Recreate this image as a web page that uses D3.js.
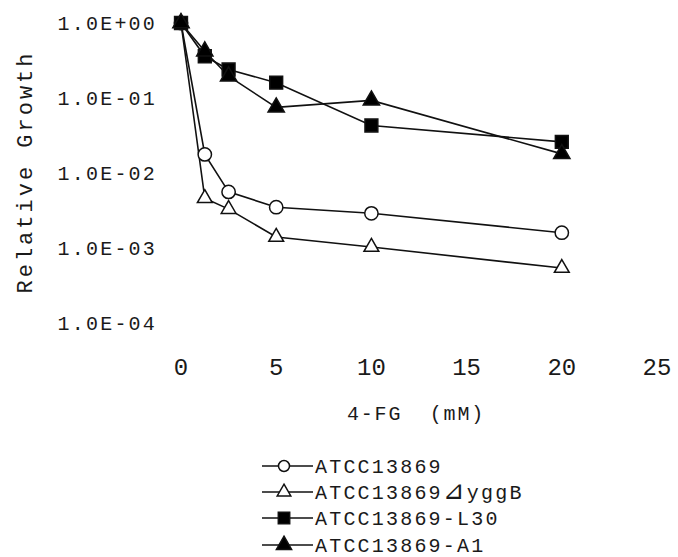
<!DOCTYPE html>
<html>
<head>
<meta charset="utf-8">
<script src="https://cdn.jsdelivr.net/npm/d3@7"></script>
<style>
  body { margin: 0; background: #fff; }
  svg { display: block; }
  text { font-family: "Liberation Mono", "DejaVu Sans Mono", monospace; fill: #1a1a1a; }
</style>
</head>
<body>
<svg id="chart" width="678" height="557"></svg>
<script>
// 4-FG concentration (mM) and relative growth per strain
const doses = [0, 1.25, 2.5, 5, 10, 20];
const atcc = [1, 0.0177, 0.0056, 0.0035, 0.0029, 0.0016];
const atcc_yggb = [1, 0.0046, 0.0033, 0.0014, 0.00103, 0.00054];
const atcc_l30 = [1, 0.36, 0.24, 0.16, 0.043, 0.026];
const atcc_a1 = [1, 0.42, 0.195, 0.075, 0.093, 0.018];

const series_names = ['ATCC13869', 'ATCC13869\u22BFyggB', 'ATCC13869-L30', 'ATCC13869-A1'];
const x_ticks = [0, 5, 10, 15, 20, 25];
const y_ticks = [1, 0.1, 0.01, 0.001, 0.0001];
const y_tick_labels = ['1.0E+00', '1.0E-01', '1.0E-02', '1.0E-03', '1.0E-04'];

const series = [
  { name: series_names[0], values: atcc, shape: d3.symbolCircle, size: 140, legend_size: 95, fill: '#fff' },
  { name: series_names[1], values: atcc_yggb, shape: d3.symbolTriangle, size: 95, legend_size: 80, fill: '#fff' },
  { name: series_names[2], values: atcc_l30, shape: d3.symbolSquare, size: 165, legend_size: 130, fill: '#000' },
  { name: series_names[3], values: atcc_a1, shape: d3.symbolTriangle, size: 115, legend_size: 100, fill: '#000' },
];

const svg = d3.select('#chart');

const x = d3.scaleLinear().domain([0, 25]).range([181, 657]);
const y = d3.scaleLog().domain([1e-4, 1]).range([323, 23]);

// y tick labels only, the original has no axis lines
svg.append('g')
  .selectAll('text')
  .data(y_ticks)
  .join('text')
  .attr('x', 157)
  .attr('y', d => y(d))
  .attr('dy', '0.35em')
  .attr('text-anchor', 'end')
  .style('font-size', '20px')
  .style('letter-spacing', '2.2px')
  .text((d, i) => y_tick_labels[i]);

svg.append('g')
  .selectAll('text')
  .data(x_ticks)
  .join('text')
  .attr('x', d => x(d))
  .attr('y', 375)
  .attr('text-anchor', 'middle')
  .style('font-size', '24px')
  .text(d => d);

svg.append('text')
  .attr('x', 416)
  .attr('y', 420)
  .attr('text-anchor', 'middle')
  .style('font-size', '20px')
  .style('letter-spacing', '1.8px')
  .attr('xml:space', 'preserve')
  .text('4-FG  (mM)');

svg.append('text')
  .attr('transform', 'translate(32, 172) rotate(-90)')
  .attr('text-anchor', 'middle')
  .style('font-size', '22px')
  .style('letter-spacing', '3px')
  .text('Relative Growth');

const line = d3.line()
  .x((d, i) => x(doses[i]))
  .y(d => y(d));

const plot = svg.append('g');

series.forEach(s => {
  plot.append('path')
    .attr('d', line(s.values))
    .attr('fill', 'none')
    .attr('stroke', '#111')
    .attr('stroke-width', 1.6);
});

series.forEach(s => {
  plot.append('g')
    .selectAll('path')
    .data(s.values)
    .join('path')
    .attr('transform', (d, i) => `translate(${x(doses[i])}, ${y(d)})`)
    .attr('d', d3.symbol().type(s.shape).size(s.size))
    .attr('fill', s.fill)
    .attr('stroke', '#111')
    .attr('stroke-width', 1.5);
});

// legend
const legend_rows = [466, 492, 518, 545];
const legend = svg.append('g')
  .selectAll('g')
  .data(series)
  .join('g')
  .attr('transform', (d, i) => `translate(0, ${legend_rows[i]})`);

legend.append('line')
  .attr('x1', 262)
  .attr('x2', 313)
  .attr('stroke', '#111')
  .attr('stroke-width', 1.6);

legend.append('path')
  .attr('transform', 'translate(284, 0)')
  .attr('d', d => d3.symbol().type(d.shape).size(d.legend_size)())
  .attr('fill', d => d.fill)
  .attr('stroke', '#111')
  .attr('stroke-width', 1.5);

const legend_text = legend.append('text')
  .attr('x', 315)
  .attr('dy', '0.35em')
  .style('font-size', '20px')
  .style('letter-spacing', '2.2px');

// the delta mark is drawn larger than the rest of the label
legend_text.each(function (d) {
  const parts = d.name.split('\u22BF');
  const t = d3.select(this);
  t.append('tspan').text(parts[0]);
  if (parts.length > 1) {
    t.append('tspan')
      .style('font-size', '26px')
      .style('font-family', '"DejaVu Sans", sans-serif')
      .text('\u22BF');
    t.append('tspan').text(parts[1]);
  }
});
</script>
</body>
</html>
